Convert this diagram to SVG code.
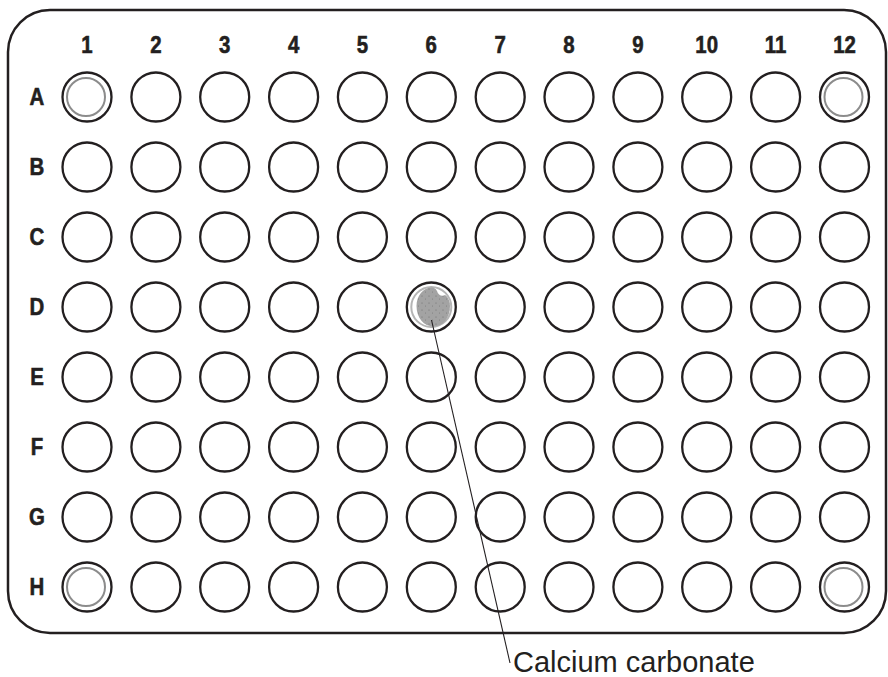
<svg xmlns="http://www.w3.org/2000/svg" width="888" height="677" viewBox="0 0 888 677">
<style>
.plate{fill:#fff;stroke:#231f20;stroke-width:2.5}
.w{fill:#fff;stroke:#231f20;stroke-width:2.3}
.ring{fill:none;stroke:#8c8c8c;stroke-width:2}
.hd{font-family:"Liberation Sans",Arial,sans-serif;font-weight:bold;font-size:24px;fill:#231f20;stroke:#231f20;stroke-width:0.6;text-anchor:middle}
.lbl{font-family:"Liberation Sans",Arial,sans-serif;font-size:29px;fill:#231f20}
</style>
<defs>
<circle id="well" r="24.5" class="w"/>
<pattern id="dots" width="7" height="7" patternUnits="userSpaceOnUse">
<rect width="7" height="7" fill="#a3a3a3"/>
<circle cx="2" cy="2" r="0.6" fill="#6d6d6d"/>
<circle cx="5.5" cy="5" r="0.5" fill="#777"/>
</pattern>
</defs>
<rect id="plate" class="plate" x="8" y="10" width="878" height="623" rx="42" ry="42"/>
<g id="column-labels" class="hd" transform="scale(0.85,1)">
<text x="102.35" y="53">1</text><text x="183.41" y="53">2</text><text x="264.35" y="53">3</text><text x="345.41" y="53">4</text><text x="426.35" y="53">5</text><text x="507.41" y="53">6</text><text x="588.47" y="53">7</text><text x="669.41" y="53">8</text><text x="750.47" y="53">9</text><text x="831.41" y="53">10</text><text x="912.47" y="53">11</text><text x="993.53" y="53">12</text>
</g>
<g id="row-labels" class="hd" transform="scale(0.85,1)">
<text x="43.5" y="105">A</text><text x="43.5" y="175">B</text><text x="43.5" y="245">C</text><text x="43.5" y="315">D</text><text x="43.5" y="385">E</text><text x="43.5" y="455">F</text><text x="43.5" y="525">G</text><text x="43.5" y="595">H</text>
</g>
<g id="wells">
<g id="row-A">
<use href="#well" x="87" y="97"/><use href="#well" x="155.9" y="97"/><use href="#well" x="224.7" y="97"/><use href="#well" x="293.6" y="97"/><use href="#well" x="362.4" y="97"/><use href="#well" x="431.3" y="97"/><use href="#well" x="500.2" y="97"/><use href="#well" x="569" y="97"/><use href="#well" x="637.9" y="97"/><use href="#well" x="706.7" y="97"/><use href="#well" x="775.6" y="97"/><use href="#well" x="844.5" y="97"/>
</g>
<g id="row-B">
<use href="#well" x="87" y="167"/><use href="#well" x="155.9" y="167"/><use href="#well" x="224.7" y="167"/><use href="#well" x="293.6" y="167"/><use href="#well" x="362.4" y="167"/><use href="#well" x="431.3" y="167"/><use href="#well" x="500.2" y="167"/><use href="#well" x="569" y="167"/><use href="#well" x="637.9" y="167"/><use href="#well" x="706.7" y="167"/><use href="#well" x="775.6" y="167"/><use href="#well" x="844.5" y="167"/>
</g>
<g id="row-C">
<use href="#well" x="87" y="237"/><use href="#well" x="155.9" y="237"/><use href="#well" x="224.7" y="237"/><use href="#well" x="293.6" y="237"/><use href="#well" x="362.4" y="237"/><use href="#well" x="431.3" y="237"/><use href="#well" x="500.2" y="237"/><use href="#well" x="569" y="237"/><use href="#well" x="637.9" y="237"/><use href="#well" x="706.7" y="237"/><use href="#well" x="775.6" y="237"/><use href="#well" x="844.5" y="237"/>
</g>
<g id="row-D">
<use href="#well" x="87" y="307"/><use href="#well" x="155.9" y="307"/><use href="#well" x="224.7" y="307"/><use href="#well" x="293.6" y="307"/><use href="#well" x="362.4" y="307"/><use href="#well" x="431.3" y="307"/><use href="#well" x="500.2" y="307"/><use href="#well" x="569" y="307"/><use href="#well" x="637.9" y="307"/><use href="#well" x="706.7" y="307"/><use href="#well" x="775.6" y="307"/><use href="#well" x="844.5" y="307"/>
</g>
<g id="row-E">
<use href="#well" x="87" y="377"/><use href="#well" x="155.9" y="377"/><use href="#well" x="224.7" y="377"/><use href="#well" x="293.6" y="377"/><use href="#well" x="362.4" y="377"/><use href="#well" x="431.3" y="377"/><use href="#well" x="500.2" y="377"/><use href="#well" x="569" y="377"/><use href="#well" x="637.9" y="377"/><use href="#well" x="706.7" y="377"/><use href="#well" x="775.6" y="377"/><use href="#well" x="844.5" y="377"/>
</g>
<g id="row-F">
<use href="#well" x="87" y="447"/><use href="#well" x="155.9" y="447"/><use href="#well" x="224.7" y="447"/><use href="#well" x="293.6" y="447"/><use href="#well" x="362.4" y="447"/><use href="#well" x="431.3" y="447"/><use href="#well" x="500.2" y="447"/><use href="#well" x="569" y="447"/><use href="#well" x="637.9" y="447"/><use href="#well" x="706.7" y="447"/><use href="#well" x="775.6" y="447"/><use href="#well" x="844.5" y="447"/>
</g>
<g id="row-G">
<use href="#well" x="87" y="517"/><use href="#well" x="155.9" y="517"/><use href="#well" x="224.7" y="517"/><use href="#well" x="293.6" y="517"/><use href="#well" x="362.4" y="517"/><use href="#well" x="431.3" y="517"/><use href="#well" x="500.2" y="517"/><use href="#well" x="569" y="517"/><use href="#well" x="637.9" y="517"/><use href="#well" x="706.7" y="517"/><use href="#well" x="775.6" y="517"/><use href="#well" x="844.5" y="517"/>
</g>
<g id="row-H">
<use href="#well" x="87" y="587"/><use href="#well" x="155.9" y="587"/><use href="#well" x="224.7" y="587"/><use href="#well" x="293.6" y="587"/><use href="#well" x="362.4" y="587"/><use href="#well" x="431.3" y="587"/><use href="#well" x="500.2" y="587"/><use href="#well" x="569" y="587"/><use href="#well" x="637.9" y="587"/><use href="#well" x="706.7" y="587"/><use href="#well" x="775.6" y="587"/><use href="#well" x="844.5" y="587"/>
</g>
</g>
<g id="corner-rings">
<circle class="ring" cx="86" cy="97" r="19"/>
<circle class="ring" cx="843.5" cy="97" r="19"/>
<circle class="ring" cx="86" cy="587" r="19"/>
<circle class="ring" cx="843.5" cy="587" r="19"/>
</g>
<g id="D6-sample">
<circle cx="431.3" cy="307" r="20" fill="none" stroke="#b5b5b5" stroke-width="2"/>
<path d="M433,287.5 C424,286.5 416.5,295 416.5,306 C416.5,318 424,326.5 433.5,326.5 C443,326.5 450,318 450,306 C450,301 448,297 445,295 C442,297 438,295 437,291 C436,289 434.5,288 433,287.5 Z" fill="url(#dots)"/>
</g>
<g id="connectors">
<line x1="431.5" y1="320" x2="510" y2="663" stroke="#231f20" stroke-width="1.1"/>
</g>
<g id="label">
<text class="lbl" x="513" y="672">Calcium carbonate</text>
</g>
</svg>
